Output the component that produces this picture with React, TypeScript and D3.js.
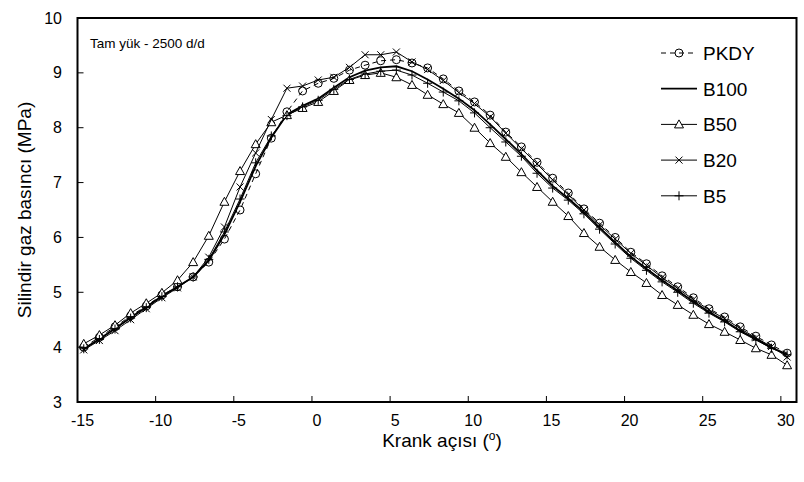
import React from "react";
import * as d3 from "d3";

const angles = [-14.6, -13.6, -12.6, -11.6, -10.6, -9.6, -8.6, -7.6, -6.6, -5.6, -4.6, -3.6, -2.6, -1.6, -0.6, 0.4, 1.4, 2.4, 3.4, 4.4, 5.4, 6.4, 7.4, 8.4, 9.4, 10.4, 11.4, 12.4, 13.4, 14.4, 15.4, 16.4, 17.4, 18.4, 19.4, 20.4, 21.4, 22.4, 23.4, 24.4, 25.4, 26.4, 27.4, 28.4, 29.4, 30.4];

const pkdy = [4.0, 4.18, 4.37, 4.57, 4.75, 4.95, 5.1, 5.28, 5.55, 5.97, 6.5, 7.16, 7.81, 8.29, 8.67, 8.81, 8.9, 9.05, 9.14, 9.22, 9.24, 9.18, 9.09, 8.89, 8.67, 8.47, 8.23, 7.92, 7.65, 7.37, 7.08, 6.81, 6.52, 6.26, 6.0, 5.73, 5.52, 5.3, 5.1, 4.9, 4.7, 4.55, 4.37, 4.2, 4.04, 3.89];
const b100 = [3.97, 4.15, 4.34, 4.54, 4.73, 4.93, 5.1, 5.28, 5.58, 6.05, 6.65, 7.3, 7.82, 8.24, 8.4, 8.53, 8.73, 8.92, 9.04, 9.1, 9.12, 9.03, 8.88, 8.71, 8.53, 8.32, 8.06, 7.79, 7.52, 7.22, 6.94, 6.71, 6.46, 6.18, 5.91, 5.65, 5.43, 5.22, 5.03, 4.83, 4.64, 4.48, 4.3, 4.15, 3.99, 3.87];
const b50 = [4.06, 4.22, 4.4, 4.62, 4.8, 4.99, 5.22, 5.55, 6.03, 6.65, 7.21, 7.7, 8.1, 8.23, 8.36, 8.47, 8.67, 8.87, 8.96, 9.0, 8.92, 8.78, 8.6, 8.43, 8.27, 8.0, 7.72, 7.47, 7.19, 6.92, 6.65, 6.39, 6.08, 5.83, 5.59, 5.37, 5.17, 4.95, 4.77, 4.59, 4.42, 4.28, 4.13, 3.98, 3.86, 3.67];
const b20 = [3.95, 4.12, 4.3, 4.5, 4.7, 4.9, 5.08, 5.28, 5.64, 6.19, 6.92, 7.54, 8.15, 8.72, 8.76, 8.87, 8.92, 9.1, 9.33, 9.33, 9.38, 9.2, 9.06, 8.86, 8.64, 8.44, 8.2, 7.9, 7.62, 7.34, 7.05, 6.78, 6.5, 6.23, 5.97, 5.71, 5.49, 5.27, 5.07, 4.87, 4.68, 4.52, 4.34, 4.17, 4.01, 3.82];
const b5 = [3.97, 4.14, 4.33, 4.53, 4.72, 4.92, 5.1, 5.28, 5.6, 6.1, 6.7, 7.36, 7.85, 8.22, 8.38, 8.5, 8.7, 8.88, 8.98, 9.03, 9.05, 8.96, 8.81, 8.65, 8.49, 8.27, 8.0, 7.74, 7.48, 7.17, 6.9, 6.68, 6.43, 6.15, 5.88, 5.62, 5.4, 5.19, 5.0, 4.8, 4.62, 4.46, 4.28, 4.13, 3.98, 3.86];

const seriesNames = ["PKDY", "B100", "B50", "B20", "B5"];
const xTicks = [-15, -10, -5, 0, 5, 10, 15, 20, 25, 30];
const yTicks = [3, 4, 5, 6, 7, 8, 9, 10];

type Marker = "circle" | "none" | "triangle" | "cross" | "plus";
const series: { name: string; values: number[]; marker: Marker; width: number; dash?: string }[] = [
  { name: seriesNames[0], values: pkdy, marker: "circle", width: 1, dash: "5,4" },
  { name: seriesNames[1], values: b100, marker: "none", width: 1.8 },
  { name: seriesNames[2], values: b50, marker: "triangle", width: 1 },
  { name: seriesNames[3], values: b20, marker: "cross", width: 1 },
  { name: seriesNames[4], values: b5, marker: "plus", width: 1 },
];

const FONT = "Arial, 'Liberation Sans', sans-serif";

function MarkerShape({ type, x, y }: { type: Marker; x: number; y: number }) {
  const s = "#000";
  if (type === "circle") return <circle cx={x} cy={y} r={4} fill="none" stroke={s} strokeWidth={1} />;
  if (type === "triangle")
    return <path d={`M${x},${y - 4.5}L${x + 4.5},${y + 3.5}L${x - 4.5},${y + 3.5}Z`} fill="white" stroke={s} strokeWidth={1} />;
  if (type === "cross")
    return <path d={`M${x - 3.5},${y - 3.5}L${x + 3.5},${y + 3.5}M${x - 3.5},${y + 3.5}L${x + 3.5},${y - 3.5}`} stroke={s} strokeWidth={1} />;
  if (type === "plus")
    return <path d={`M${x - 4.5},${y}L${x + 4.5},${y}M${x},${y - 4.5}L${x},${y + 4.5}`} stroke={s} strokeWidth={1} />;
  return null;
}

export default function App() {
  const W = 804, H = 482;
  const left = 77.5, right = 796.5, top = 18, bottom = 402;
  const x = d3.scaleLinear().domain([-15, 31]).range([left, right]);
  const y = d3.scaleLinear().domain([3, 10]).range([bottom, top]);
  const line = d3.line<number>().x((_, i) => x(angles[i])).y((d) => y(d)).curve(d3.curveLinear);

  const legendY0 = 53, legendDy = 35.7;

  return (
    <svg width={W} height={H} style={{ position: "absolute", left: 0, top: 0, background: "#fff" }} fontFamily={FONT}>
      <rect x={0} y={0} width={W} height={H} fill="#fff" />
      {series.map((s) => (
        <g key={s.name}>
          <path d={line(s.values) || ""} fill="none" stroke="#000" strokeWidth={s.width} strokeDasharray={s.dash} />
          {s.values.map((v, i) => (
            <MarkerShape key={i} type={s.marker} x={x(angles[i])} y={y(v)} />
          ))}
        </g>
      ))}
      <rect x={left} y={top} width={right - left} height={bottom - top} fill="none" stroke="#000" strokeWidth={2} />
      {yTicks.map((t) => (
        <g key={t}>
          <line x1={left} x2={left + 6} y1={y(t)} y2={y(t)} stroke="#000" strokeWidth={1} />
          <text x={62} y={y(t)} dy="0.35em" textAnchor="end" fontSize={16}>{t}</text>
        </g>
      ))}
      {xTicks.map((t) => (
        <g key={t}>
          <line x1={x(t)} x2={x(t)} y1={bottom} y2={bottom - 6} stroke="#000" strokeWidth={1} />
          <text x={x(t) + 5} y={bottom + 24} textAnchor="middle" fontSize={16}>{String(t)}</text>
        </g>
      ))}
      <text x={(left + right) / 2 + 5} y={447} textAnchor="middle" fontSize={19}>
        Krank açısı (<tspan baselineShift="super" fontSize={12}>o</tspan>)
      </text>
      <text transform={`translate(31,${(top + bottom) / 2}) rotate(-90)`} textAnchor="middle" fontSize={19}>
        Silindir gaz basıncı (MPa)
      </text>
      <text x={90} y={48} fontSize={13.5}>Tam yük - 2500 d/d</text>
      {series.map((s, i) => {
        const ly = legendY0 + i * legendDy;
        return (
          <g key={s.name}>
            <line x1={661} x2={697} y1={ly} y2={ly} stroke="#000" strokeWidth={s.width} strokeDasharray={s.dash} />
            <MarkerShape type={s.marker} x={679} y={ly} />
            <text x={703} y={ly} dy="0.36em" fontSize={19}>{s.name}</text>
          </g>
        );
      })}
    </svg>
  );
}
